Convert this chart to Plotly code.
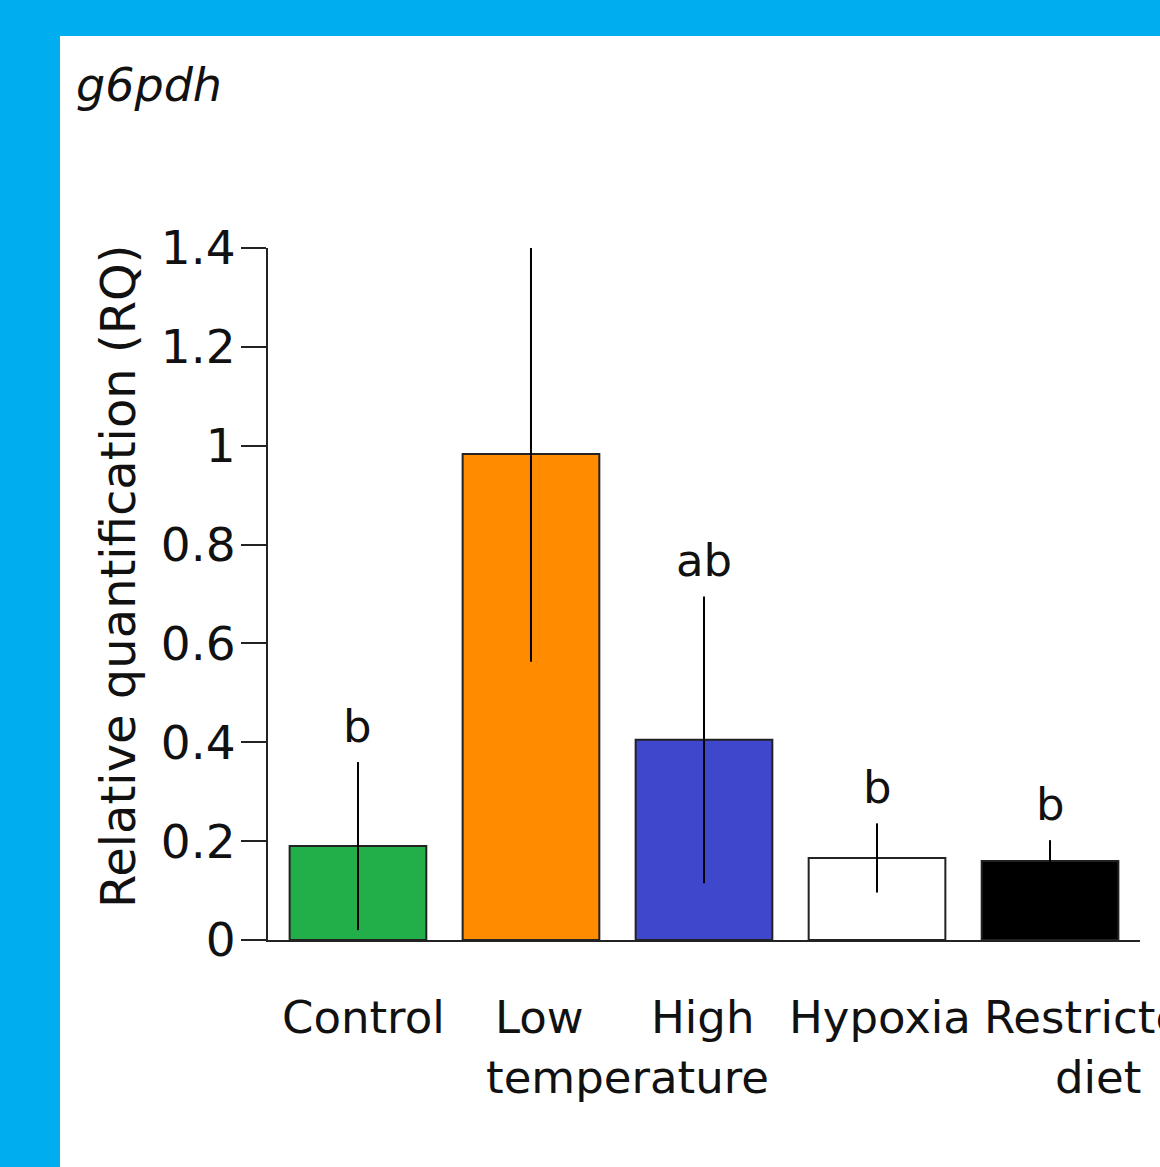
import plotly.graph_objects as go

categories = ["Control", "Low temperature", "High temperature", "Hypoxia", "Restricted diet"]
values = [0.19, 0.983, 0.405, 0.166, 0.16]
errors = [0.17, 0.42, 0.29, 0.07, 0.042]
letters = ["b", "a", "ab", "b", "b"]
colors = ["#22AE48", "#FF8C00", "#3F48CC", "#FFFFFF", "#000000"]
ytick_vals = [0, 0.2, 0.4, 0.6, 0.8, 1.0, 1.2, 1.4]
ytick_text = ["0", "0.2", "0.4", "0.6", "0.8", "1", "1.2", "1.4"]
label_lines = [("Control", 0.03, 1), ("Low", 1.05, 1), ("High", 1.99, 1),
               ("temperature", 1.56, 2), ("Hypoxia", 3.02, 1),
               ("Restricted", 4.28, 1), ("diet", 4.28, 2)]

FONT = "DejaVu Sans"
W, H = 1160, 1167
L, R, T, B = 268, 20, 248, 227
pw, ph = W - L - R, H - T - B

def px2x(px):
    return (px - L) / pw

def py2y(py):
    return (H - B - py) / ph

xs = list(range(len(categories)))

fig = go.Figure()
fig.add_trace(go.Bar(
    x=xs, y=values, width=0.79,
    marker=dict(color=colors, line=dict(color="#222222", width=2)),
    error_y=dict(type="data", array=errors, symmetric=True, width=0,
                 thickness=2, color="#000000"),
    showlegend=False,
))

annotations = []
for i, (v, e, lt) in enumerate(zip(values, errors, letters)):
    annotations.append(dict(x=i, y=v + e, xref="x", yref="y", text=lt,
                            showarrow=False, yanchor="bottom", yshift=7,
                            font=dict(family=FONT, size=45, color="#111111")))
for txt, xv, line in label_lines:
    annotations.append(dict(x=xv, y=py2y(1017 if line == 1 else 1077), xref="x", yref="paper",
                            text=txt, showarrow=False, yanchor="middle", xanchor="center",
                            font=dict(family=FONT, size=45, color="#111111")))
annotations.append(dict(x=px2x(118), y=py2y(576), xref="paper", yref="paper",
                        text="Relative quantification (RQ)", textangle=-90,
                        showarrow=False, xanchor="center", yanchor="middle",
                        font=dict(family=FONT, size=48, color="#111111")))
annotations.append(dict(x=px2x(74), y=py2y(85), xref="paper", yref="paper",
                        text="<i>g6pdh</i>", showarrow=False, xanchor="left", yanchor="middle",
                        font=dict(family=FONT, size=46, color="#111111")))

fig.add_shape(type="rect", xref="paper", yref="paper", layer="below",
              x0=px2x(60), x1=px2x(1200), y0=py2y(1200), y1=py2y(36),
              fillcolor="#FFFFFF", line=dict(width=0))

fig.update_layout(
    width=W, height=H,
    margin=dict(l=L, r=R, t=T, b=B, autoexpand=False),
    paper_bgcolor="#00AEEF", plot_bgcolor="rgba(0,0,0,0)",
    annotations=annotations,
    bargap=0.2,
)
fig.update_xaxes(range=[-0.52, 4.52], showticklabels=False, ticks="",
                 showline=True, linecolor="#222222", linewidth=2,
                 showgrid=False, zeroline=False)
fig.update_yaxes(range=[0, 1.4], tickvals=ytick_vals, ticktext=ytick_text,
                 ticks="outside", ticklen=25, tickwidth=2, tickcolor="#222222",
                 showline=True, linecolor="#222222", linewidth=2,
                 showgrid=False, zeroline=False, ticklabelstandoff=-4,
                 tickfont=dict(family=FONT, size=47, color="#111111"))
fig.update_traces(cliponaxis=False)

fig.write_html("out.html", config={"displayModeBar": False},
               post_script="document.body.style.margin='0';document.body.style.overflow='hidden';")
